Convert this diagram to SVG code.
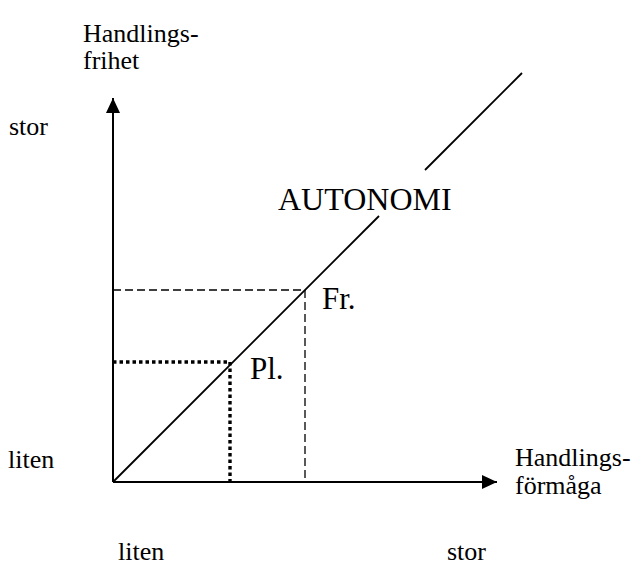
<svg xmlns="http://www.w3.org/2000/svg" width="631" height="567" viewBox="0 0 631 567">
<defs>
<style>
.lbl{font-size:26px}
.big{font-size:31px}
.auto{font-size:32px}
.ax{stroke:#000;stroke-width:2;fill:none}
.diag{stroke:#000;stroke-width:1.8;fill:none}
.dash{stroke:#000;stroke-width:1.3;stroke-dasharray:8 4;fill:none}
.dot{stroke:#000;stroke-width:3.4;stroke-dasharray:3.5 3;fill:none}
</style>
<marker id="ah" viewBox="0 0 15 14" refX="15" refY="7" markerWidth="15" markerHeight="14" markerUnits="userSpaceOnUse" orient="auto">
<path d="M0,0 L15,7 L0,14 Z" fill="#000"/>
</marker>
</defs>
<rect width="631" height="567" fill="#fff"/>
<g id="connectors">
<line class="ax" x1="113" y1="482" x2="113" y2="98" marker-end="url(#ah)"/>
<line class="ax" x1="113" y1="482" x2="497" y2="482" marker-end="url(#ah)"/>
<line class="diag" x1="113" y1="482" x2="379" y2="216"/>
<line class="diag" x1="425" y1="170" x2="522" y2="73"/>
<polyline class="dash" points="113,290 305,290 305,482"/>
<polyline class="dot" points="113,362 230,362 230,482"/>
</g>
<g font-family="Liberation Serif" fill="#000">
<g id="y-axis-label"><text class="lbl" x="83" y="42">Handlings-</text><text class="lbl" x="83" y="69">frihet</text></g>
<g id="y-stor"><text class="lbl" x="9" y="135">stor</text></g>
<g id="y-liten"><text class="lbl" x="8" y="468">liten</text></g>
<g id="x-axis-label"><text class="lbl" x="515" y="466">Handlings-</text><text class="lbl" x="515" y="494">förmåga</text></g>
<g id="x-liten"><text class="lbl" x="118" y="560">liten</text></g>
<g id="x-stor"><text class="lbl" x="447" y="560">stor</text></g>
<g id="autonomi"><text class="auto" x="278" y="210">AUTONOMI</text></g>
<g id="fr"><text class="big" x="322" y="309">Fr.</text></g>
<g id="pl"><text class="big" x="250" y="379">Pl.</text></g>
</g>
</svg>
